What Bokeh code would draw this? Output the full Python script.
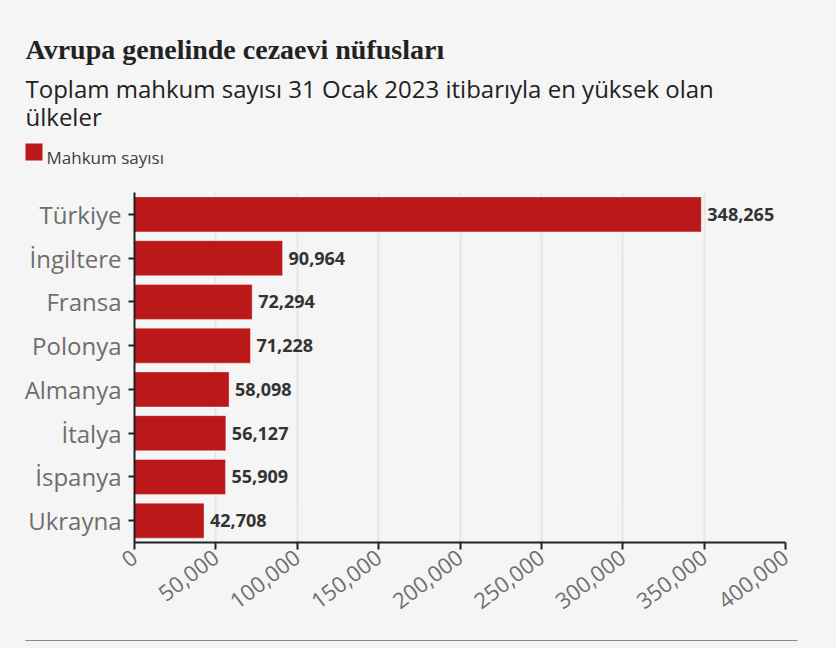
from bokeh.plotting import figure
from bokeh.layouts import column
from bokeh.models import (FactorRange, Range1d, FixedTicker, NumeralTickFormatter,
                          ColumnDataSource)
from bokeh.core.properties import value
from bokeh.embed import file_html
from bokeh.resources import INLINE

countries = ["Türkiye", "İngiltere", "Fransa", "Polonya", "Almanya", "İtalya", "İspanya", "Ukrayna"]
prisoners = [348265, 90964, 72294, 71228, 58098, 56127, 55909, 42708]
value_labels = ["348,265", "90,964", "72,294", "71,228", "58,098", "56,127", "55,909", "42,708"]
x_ticks = [0, 50000, 100000, 150000, 200000, 250000, 300000, 350000, 400000]

title_text = "Avrupa genelinde cezaevi nüfusları"
subtitle_1 = "Toplam mahkum sayısı 31 Ocak 2023 itibarıyla en yüksek olan"
subtitle_2 = "ülkeler"
legend_text = "Mahkum sayısı"

BG = "#f5f5f5"
RED = "#bb1919"
SANS = "Open Sans"
W = 836


def blank(h, y0):
    f = figure(width=W, height=h, output_backend="svg", toolbar_location=None,
               x_range=Range1d(0, W), y_range=Range1d(y0 + h, y0),
               min_border=0, min_border_left=0, min_border_right=0,
               min_border_top=0, min_border_bottom=0, frame_align=False)
    f.axis.visible = False
    f.grid.visible = False
    f.outline_line_color = None
    f.background_fill_color = BG
    f.border_fill_color = BG
    return f


# ---- header (title, subtitle, legend) ----
head = blank(192, 0)
head.text(x=[25], y=[49], text=[title_text], text_font=value("Liberation Serif"),
          text_font_style="bold", text_font_size="28px", text_color="#222222",
          text_baseline="alphabetic")
head.text(x=[25, 25], y=[88, 116], text=[subtitle_1, subtitle_2], text_font=value(SANS),
          text_font_size="24px", text_color="#222222", text_baseline="alphabetic")
head.quad(left=[25], right=[42], top=[143], bottom=[160], fill_color=RED, line_color=None)
head.text(x=[46], y=[157], text=[legend_text], text_font=value(SANS),
          text_font_size="17px", text_color="#404040", text_baseline="alphabetic")

# ---- chart ----
src = ColumnDataSource(dict(country=countries, n=prisoners, lab=value_labels))

p = figure(width=W, height=438, output_backend="svg", toolbar_location=None,
           y_range=FactorRange(*countries[::-1], range_padding=0),
           x_range=Range1d(0, 400000), frame_align=False,
           min_border_left=134, min_border_right=51, min_border_top=0, min_border_bottom=88)
p.background_fill_color = BG
p.border_fill_color = BG
p.outline_line_color = None

p.hbar(y="country", right="n", left=0, height=0.8, source=src,
       fill_color=RED, line_color="white", line_alpha=0.35, line_width=1)
p.text(x="n", y="country", text="lab", source=src, x_offset=6,
       text_baseline="middle", text_align="left",
       text_font=value(SANS), text_font_style="bold", text_font_size="18px",
       text_color="#333333")

p.xaxis.ticker = FixedTicker(ticks=x_ticks)
p.xaxis.formatter = NumeralTickFormatter(format="0,0")
p.xaxis.major_label_orientation = 0.65
p.xaxis.major_label_text_font = SANS
p.xaxis.major_label_text_font_size = "22px"
p.xaxis.major_label_text_color = "#6e6e6e"
p.xaxis.axis_line_color = "#222222"
p.xaxis.axis_line_width = 2
p.xaxis.major_tick_line_color = "#222222"
p.xaxis.major_tick_line_width = 2
p.xaxis.major_tick_out = 7
p.xaxis.major_tick_in = 0
p.xaxis.minor_tick_line_color = None

p.yaxis.major_label_text_font = SANS
p.yaxis.major_label_text_font_size = "24px"
p.yaxis.major_label_text_color = "#6e6e6e"
p.yaxis.axis_line_color = "#222222"
p.yaxis.axis_line_width = 2
p.yaxis.major_tick_line_color = "#222222"
p.yaxis.major_tick_line_width = 2
p.yaxis.major_tick_out = 6
p.yaxis.major_tick_in = 0
p.yaxis.major_label_standoff = 7

p.xgrid.grid_line_color = "#e6e6e6"
p.xgrid.grid_line_width = 2
p.ygrid.grid_line_color = None

# ---- footer rule ----
foot = blank(18, 630)
foot.segment(x0=[25], x1=[797], y0=[640], y1=[640], line_color="#8a8a8a", line_width=1)

layout = column(head, p, foot, spacing=0, styles={"background-color": BG})

open("out.html", "w").write(file_html(layout, INLINE))
